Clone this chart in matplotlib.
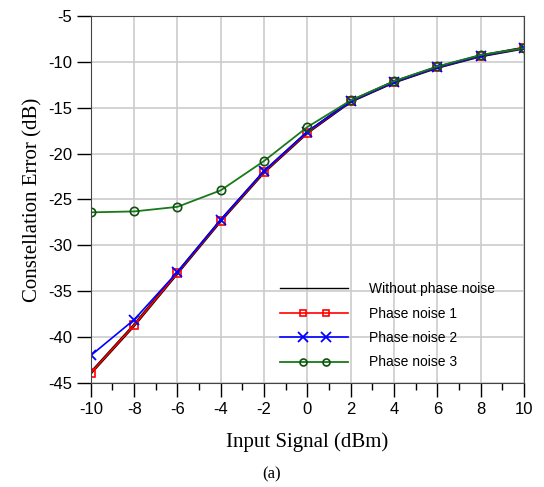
import numpy as np
import matplotlib.pyplot as plt
from matplotlib.ticker import MultipleLocator
from matplotlib.legend_handler import HandlerLine2D
from matplotlib.lines import Line2D

plt.rcParams['axes.unicode_minus'] = False

x = [-10, -8, -6, -4, -2, 0, 2, 4, 6, 8, 10]
no_noise = [-43.9, -38.7, -33.0, -27.3, -22.0, -17.7, -14.3, -12.2, -10.6, -9.35, -8.5]
pn1 = [-43.9, -38.7, -33.0, -27.3, -22.0, -17.7, -14.3, -12.2, -10.6, -9.35, -8.5]
pn2 = [-42.0, -38.1, -32.9, -27.2, -21.9, -17.6, -14.3, -12.2, -10.6, -9.35, -8.5]
pn3 = [-26.4, -26.3, -25.8, -24.0, -20.8, -17.1, -14.2, -12.1, -10.5, -9.25, -8.5]


class InnerMarks(HandlerLine2D):
    # full-length line, markers at 1/3 and 2/3
    def create_artists(self, legend, orig_handle, xdescent, ydescent,
                       width, height, fontsize, trans):
        xd = np.linspace(-xdescent, -xdescent + width, 4)
        yd = np.full_like(xd, (height - ydescent) / 2)
        ln = Line2D(xd, yd)
        self.update_prop(ln, orig_handle, legend)
        ln.set_markevery([1, 2])
        ln.set_transform(trans)
        return [ln]


fig = plt.figure(figsize=(5.44, 4.87), dpi=100)
ax = fig.add_axes([0.167, 0.2136, 0.796, 0.7535])

ax.plot(x, no_noise, '-', color='black', lw=2.2, label='Without phase noise')
ax.plot(x, pn1, '-', color='red', lw=1.2, marker='s', ms=6, mfc='none', mew=1.2,
        label='Phase noise 1')
ax.plot(x, pn2, '-', color='blue', lw=1.2, marker='x', ms=7, mew=1.3,
        label='Phase noise 2')
ax.plot(x, pn3, '-', color='#1a7a1a', lw=1.3, marker='o', ms=6, mfc='none', mew=1.2,
        mec='#0f4f0f', label='Phase noise 3')

ax.set_xlim(-10, 10)
ax.set_ylim(-45, -5)
ax.xaxis.set_major_locator(MultipleLocator(2))
ax.xaxis.set_minor_locator(MultipleLocator(1))
ax.yaxis.set_major_locator(MultipleLocator(5))
ax.grid(True, color='#cccccc', lw=1.2)
ax.set_axisbelow(True)
ax.tick_params(axis='both', which='major', direction='out', length=10, width=1,
               labelsize=12)
ax.tick_params(axis='x', which='minor', direction='out', length=5, width=1)
for lab in ax.get_xticklabels() + ax.get_yticklabels():
    lab.set_family('Liberation Sans')
for s in ax.spines.values():
    s.set_color('#444444')

ax.set_xlabel('Input Signal (dBm)', family='Liberation Serif', fontsize=15, labelpad=11)
ax.set_ylabel('Constellation Error (dB)', family='Liberation Serif', fontsize=15,
              labelpad=4)

hmap = {ln: InnerMarks() for ln in ax.get_lines()}
leg = ax.legend(loc='upper left', bbox_to_anchor=(0.425, 0.29), frameon=False,
                handler_map=hmap, handlelength=4.9, labelspacing=0.75,
                handletextpad=1.5, borderaxespad=0,
                prop={'family': 'Liberation Sans', 'size': 10})
leg.get_lines()[0].set_linewidth(1.0)
for ln in leg.get_lines()[1:]:
    ln.set_markersize(5)
leg.get_lines()[2].set_markersize(7)

fig.text(0.5, 0.018, '(a)', ha='center', family='Liberation Serif', fontsize=12)

fig.savefig('out.png', dpi=100)
